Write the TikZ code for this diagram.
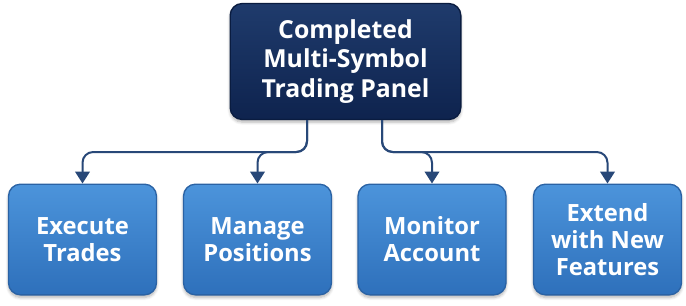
\documentclass[tikz,border=0pt]{standalone}
\usepackage{fontspec}
\setmainfont{Open Sans}
\usetikzlibrary{arrows.meta,shadows.blur,calc}
\definecolor{navyT}{HTML}{1F3B6C}
\definecolor{navyB}{HTML}{0E234E}
\definecolor{navyE}{HTML}{0A1C40}
\definecolor{blueT}{HTML}{4C94DB}
\definecolor{blueB}{HTML}{2E70BB}
\definecolor{blueE}{HTML}{2A62A4}
\definecolor{conn}{HTML}{284878}
\tikzset{
  mainbox/.style={draw=navyE, line width=1pt, rounded corners=9pt,
    top color=navyT, bottom color=navyB, minimum width=173pt, minimum height=87pt,
    text=white, font=\fontsize{18.6}{21.8}\selectfont\bfseries, align=center,
    blur shadow={shadow xshift=0pt, shadow yshift=-2pt, shadow opacity=30, shadow blur steps=6}},
  subbox/.style={draw=blueE, line width=1pt, rounded corners=9pt,
    top color=blueT, bottom color=blueB, minimum width=111pt, minimum height=83pt,
    text=white, font=\fontsize{17.8}{20.3}\selectfont\bfseries, align=center,
    blur shadow={shadow xshift=0pt, shadow yshift=-2pt, shadow opacity=30, shadow blur steps=6}},
  link/.style={draw=conn, line width=1.5pt, rounded corners=8pt,
    -{Triangle[length=9pt,width=11pt]}, fill=none, color=conn}
}
\begin{document}
\begin{tikzpicture}[x=0.75pt,y=-0.75pt]
\useasboundingbox (0,0) rectangle (686,305);
\node[mainbox] (top) at (345.5,61.5) {Completed\\Multi-Symbol\\Trading Panel};
\node[subbox] (e1) at (82.5,239.5) {Execute\\Trades};
\node[subbox] (e2) at (257.5,239.5) {Manage\\Positions};
\node[subbox] (e3) at (432,239.5) {Monitor\\Account};
\node[subbox] (e4) at (607.5,239.5) {Extend\\with New\\Features};
\coordinate (lvl) at (0,152);
\coordinate (sl) at ($(top.south)+(-38.5,0)$);
\coordinate (sr) at ($(top.south)+(36.5,0)$);
\draw[link] (sl) |- (e1.north |- lvl) -- (e1.north);
\draw[link] (sl) |- (e2.north |- lvl) -- (e2.north);
\draw[link] (sr) |- (e3.north |- lvl) -- (e3.north);
\draw[link] (sr) |- (e4.north |- lvl) -- (e4.north);
\end{tikzpicture}
\end{document}
